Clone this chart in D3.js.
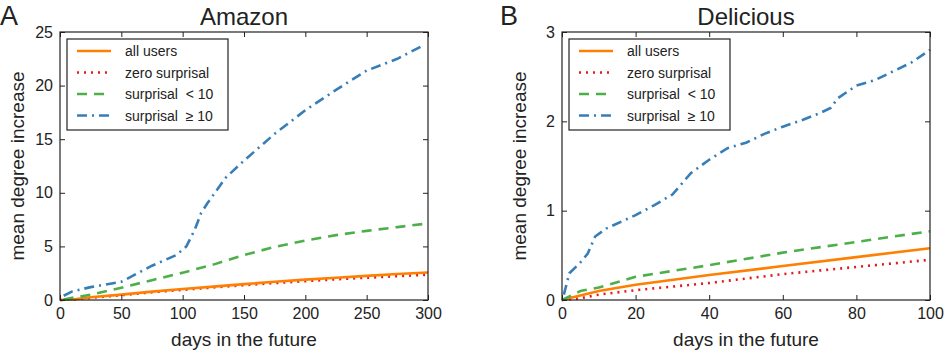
<!DOCTYPE html>
<html>
<meta charset="utf-8">
<head>
    <script src="https://d3js.org/d3.v7.min.js"></script>
    <style>
        body { margin: 0; background: #fff; }
        text { font-family: "Liberation Sans", Arial, sans-serif; fill: #222; }
    </style>
</head>
<body>
    <script>
        // series: [days, mean degree increase]
        var seriesNames = ["all users", "zero surprisal", "surprisal\u00a0\u00a0< 10", "surprisal\u00a0\u00a0\u2265 10"];

        var amazonAll = [[0,0],[10,0.05],[25,0.25],[50,0.5],[75,0.78],[100,1.02],[125,1.25],[150,1.48],[175,1.7],[200,1.9],[225,2.08],[250,2.25],[275,2.42],[300,2.57]];
        var amazonZero = [[0,0],[10,0.03],[25,0.2],[50,0.45],[75,0.72],[100,0.95],[125,1.17],[150,1.38],[175,1.58],[200,1.76],[225,1.93],[250,2.08],[275,2.22],[300,2.36]];
        var amazonLow = [[3,0.05],[10,0.2],[25,0.5],[50,1.15],[75,1.85],[100,2.55],[125,3.3],[150,4.2],[175,4.95],[200,5.55],[225,6.05],[250,6.45],[275,6.8],[297,7.1]];
        var amazonHigh = [[3,0.4],[10,0.8],[25,1.2],[50,1.7],[75,3.2],[95,4.2],[103,5.0],[110,6.6],[115,8.1],[120,9.0],[135,11.4],[150,13.0],[175,15.5],[200,17.7],[225,19.6],[250,21.4],[275,22.5],[297,23.8]];

        var deliciousAll = [[0,0],[3,0.03],[10,0.1],[20,0.17],[40,0.28],[60,0.38],[80,0.48],[100,0.58]];
        var deliciousZero = [[0,0],[5,0.02],[10,0.06],[20,0.11],[40,0.19],[60,0.29],[80,0.37],[100,0.45]];
        var deliciousLow = [[0,0],[5,0.1],[10,0.14],[20,0.26],[40,0.39],[60,0.53],[80,0.65],[100,0.77]];
        var deliciousHigh = [[0.5,0.06],[2,0.3],[5,0.42],[7,0.52],[9,0.71],[12,0.8],[20,0.95],[25,1.06],[30,1.18],[35,1.42],[40,1.57],[45,1.7],[50,1.76],[55,1.86],[60,1.94],[65,2.01],[70,2.09],[73,2.15],[75,2.26],[80,2.4],[85,2.46],[90,2.56],[95,2.66],[100,2.8]];

        var amazonXTicks = [0, 50, 100, 150, 200, 250, 300];
        var amazonYTicks = [0, 5, 10, 15, 20, 25];
        var deliciousXTicks = [0, 20, 40, 60, 80, 100];
        var deliciousYTicks = [0, 1, 2, 3];

        var colors = ["#ff7f00", "#e41a1c", "#4daf4a", "#377eb8"];
        var dashes = [null, "2,5", "10,7", "10,5,2,5"];

        var width = 948, height = 355;
        var svg = d3.select("body").append("svg")
            .attr("width", width)
            .attr("height", height);

        function panel(opt) {
            var x = d3.scaleLinear().domain(opt.xDomain).range([opt.left, opt.left + 368]);
            var y = d3.scaleLinear().domain(opt.yDomain).range([300, 32]);
            var g = svg.append("g");

            var line = d3.line().x(d => x(d[0])).y(d => y(d[1]));
            // draw order: red under orange
            [1, 0, 2, 3].forEach(function (i) {
                g.append("path")
                    .attr("d", line(opt.series[i]))
                    .attr("fill", "none")
                    .attr("stroke", colors[i])
                    .attr("stroke-width", 2.6)
                    .attr("stroke-dasharray", dashes[i]);
            });

            // axes, ticks inward on all sides
            var fmt = d3.format("d");
            var bottom = d3.axisBottom(x).tickValues(opt.xTicks).tickSizeInner(-5).tickSizeOuter(0).tickPadding(8).tickFormat(fmt);
            var top = d3.axisTop(x).tickValues(opt.xTicks).tickSizeInner(-5).tickSizeOuter(0).tickFormat("");
            var left = d3.axisLeft(y).tickValues(opt.yTicks).tickSizeInner(-5).tickSizeOuter(0).tickPadding(7).tickFormat(fmt);
            var right = d3.axisRight(y).tickValues(opt.yTicks).tickSizeInner(-5).tickSizeOuter(0).tickFormat("");

            [[bottom, "translate(0,300)"], [top, "translate(0,32)"], [left, "translate(" + opt.left + ",0)"], [right, "translate(" + (opt.left + 368) + ",0)"]].forEach(function (a) {
                var ax = g.append("g").attr("transform", a[1]).call(a[0]);
                ax.select(".domain").remove();
                ax.selectAll("line").attr("stroke", "#222");
                ax.selectAll("text").style("font-size", "16px").attr("fill", "#222")
                    .style("font-family", '"Liberation Sans", Arial, sans-serif');
            });

            g.append("rect")
                .attr("x", opt.left).attr("y", 32)
                .attr("width", 368).attr("height", 268)
                .attr("fill", "none").attr("stroke", "#222").attr("stroke-width", 1.2);

            g.append("text")
                .attr("x", opt.left + 184).attr("y", 25)
                .attr("text-anchor", "middle")
                .style("font-size", "24px")
                .text(opt.title);

            g.append("text")
                .attr("x", opt.letterX).attr("y", 25)
                .style("font-size", "27px")
                .text(opt.letter);

            g.append("text")
                .attr("x", opt.left + 184).attr("y", 346)
                .attr("text-anchor", "middle")
                .style("font-size", "19px")
                .text("days in the future");

            g.append("text")
                .attr("transform", "translate(" + (opt.left - 36) + ",166) rotate(-90)")
                .attr("text-anchor", "middle")
                .style("font-size", "19px")
                .text("mean degree increase");

            // legend
            var lg = g.append("g").attr("transform", "translate(" + (opt.left + 7) + ",39)");
            lg.append("rect")
                .attr("width", 161).attr("height", 91)
                .attr("fill", "#fff").attr("stroke", "#222").attr("stroke-width", 1.2);
            seriesNames.forEach(function (name, i) {
                var yy = 12 + i * 21.5;
                lg.append("line")
                    .attr("x1", 10).attr("x2", 44).attr("y1", yy).attr("y2", yy)
                    .attr("stroke", colors[i]).attr("stroke-width", 2.6)
                    .attr("stroke-dasharray", dashes[i]);
                lg.append("text")
                    .attr("x", 58).attr("y", yy + 5)
                    .style("font-size", "14px")
                    .text(name);
            });
        }

        panel({
            left: 60, title: "Amazon", letter: "A", letterX: 0,
            xDomain: [0, 300], yDomain: [0, 25],
            xTicks: amazonXTicks, yTicks: amazonYTicks,
            series: [amazonAll, amazonZero, amazonLow, amazonHigh]
        });
        panel({
            left: 562, title: "Delicious", letter: "B", letterX: 500,
            xDomain: [0, 100], yDomain: [0, 3],
            xTicks: deliciousXTicks, yTicks: deliciousYTicks,
            series: [deliciousAll, deliciousZero, deliciousLow, deliciousHigh]
        });
    </script>
</body>
</html>
